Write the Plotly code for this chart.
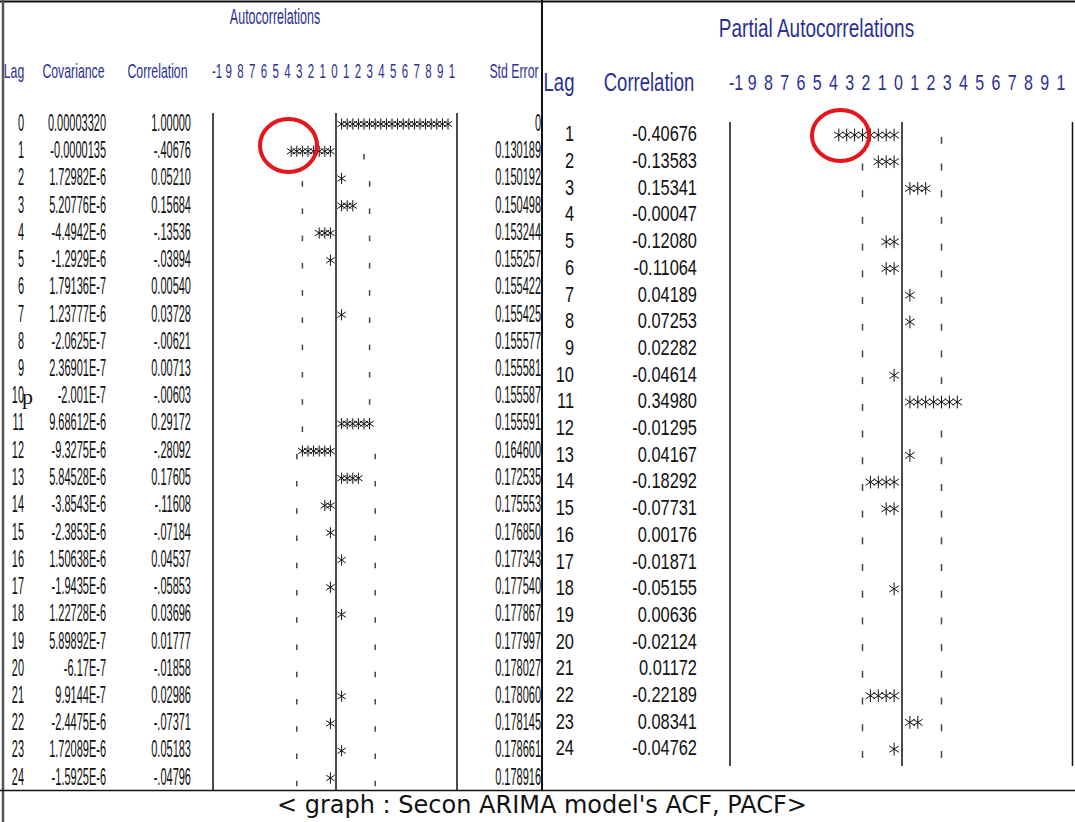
import numpy as np
import plotly.graph_objects as go

# ---------------- data (read from the SAS output) ----------------
acf_lag = list(range(0, 25))
acf_covariance = ["0.00003320", "-0.0000135", "1.72982E-6", "5.20776E-6", "-4.4942E-6",
                  "-1.2929E-6", "1.79136E-7", "1.23777E-6", "-2.0625E-7", "2.36901E-7",
                  "-2.001E-7", "9.68612E-6", "-9.3275E-6", "5.84528E-6", "-3.8543E-6",
                  "-2.3853E-6", "1.50638E-6", "-1.9435E-6", "1.22728E-6", "5.89892E-7",
                  "-6.17E-7", "9.9144E-7", "-2.4475E-6", "1.72089E-6", "-1.5925E-6"]
acf_correlation = [1.00000, -0.40676, 0.05210, 0.15684, -0.13536, -0.03894, 0.00540,
                   0.03728, -0.00621, 0.00713, -0.00603, 0.29172, -0.28092, 0.17605,
                   -0.11608, -0.07184, 0.04537, -0.05853, 0.03696, 0.01777, -0.01858,
                   0.02986, -0.07371, 0.05183, -0.04796]
acf_std_error = [0, 0.130189, 0.150192, 0.150498, 0.153244, 0.155257, 0.155422, 0.155425,
                 0.155577, 0.155581, 0.155587, 0.155591, 0.164600, 0.172535, 0.175553,
                 0.176850, 0.177343, 0.177540, 0.177867, 0.177997, 0.178027, 0.178060,
                 0.178145, 0.178661, 0.178916]
pacf_lag = list(range(1, 25))
pacf_correlation = [-0.40676, -0.13583, 0.15341, -0.00047, -0.12080, -0.11064, 0.04189,
                    0.07253, 0.02282, -0.04614, 0.34980, -0.01295, 0.04167, -0.18292,
                    -0.07731, 0.00176, -0.01871, -0.05155, 0.00636, -0.02124, 0.01172,
                    -0.22189, 0.08341, -0.04762]
n_obs = 59
scale_labels = ["-1", "9", "8", "7", "6", "5", "4", "3", "2", "1", "0",
                "1", "2", "3", "4", "5", "6", "7", "8", "9", "1"]
acf_headers = ["Lag", "Covariance", "Correlation", "Std Error"]
pacf_headers = ["Lag", "Correlation"]
acf_title = "Autocorrelations"
pacf_title = "Partial Autocorrelations"
caption = "< graph : Secon ARIMA model's ACF, PACF>"

# ---------------- layout constants (pixels) ----------------
W, H = 1075, 822
ACF_C, ACF_CHAR, ACF_ROW0, ACF_DY = 336.0, 5.6, 124.0, 27.25
PACF_C, PACF_CHAR, PACF_ROW0, PACF_DY = 902.0, 7.9, 135.0, 26.7
FONT = "Liberation Sans, Arial, sans-serif"
BLUE = "#2b2f96"
INK = "#111111"


def x_range(px_of_v0, v0, ppu):
    return [v0 - px_of_v0 / ppu, v0 + (W - px_of_v0) / ppu]


def y_range(px_of_v0, v0, ppu):
    return [v0 + (H - px_of_v0) / ppu, v0 - px_of_v0 / ppu]


def n_stars(r):
    return int(np.floor(abs(r) * 20 + 0.5))


def star_points(lags, corrs):
    xs, ys = [], []
    for lag, r in zip(lags, corrs):
        s = 1 if r >= 0 else -1
        for k in range(1, n_stars(r) + 1):
            xs.append(s * k / 20)
            ys.append(lag)
    return xs, ys


def dot_points(lags, corrs, ses):
    xs, ys = [], []
    for lag, r, se in zip(lags, corrs, ses):
        if se <= 0:
            continue
        k = int(np.floor(2 * se * 20 + 0.5))
        s = 1 if r >= 0 else -1
        for side in (-1, 1):
            if side == s and n_stars(r) >= k:
                continue
            xs.append(side * k / 20)
            ys.append(lag + 0.2)
    return xs, ys


def fmt_acf_corr(v):
    return f"{v:.5f}".replace("-0.", "-.")


def fmt_se(v):
    return "0" if v == 0 else f"{v:.6f}"


fig = go.Figure()
_uid_count = {}


def text_trace(x, y, text, xa, ya, pos, size, color, group):
    _uid_count[group] = _uid_count.get(group, 0) + 1
    fig.add_trace(go.Scatter(x=x, y=y, text=text, mode="text", textposition=pos,
                             textfont=dict(family=FONT, size=size, color=color),
                             xaxis=xa, yaxis=ya, hoverinfo="skip", showlegend=False,
                             cliponaxis=False, uid=f"{group}{_uid_count[group]}"))


def star_traces(x, y, xa, ya, size):
    for sym in ("y-up-open", "y-down-open"):
        fig.add_trace(go.Scatter(x=x, y=y, mode="markers", xaxis=xa, yaxis=ya,
                                 marker=dict(symbol=sym, size=size, color=INK,
                                             line=dict(width=1, color=INK)),
                                 hoverinfo="skip", showlegend=False, cliponaxis=False))


def dot_trace(x, y, xa, ya, size):
    fig.add_trace(go.Scatter(x=x, y=y, mode="markers", xaxis=xa, yaxis=ya,
                             marker=dict(symbol="line-ns-open", size=size, color="#444",
                                         line=dict(width=1.5, color="#444")),
                             hoverinfo="skip", showlegend=False, cliponaxis=False))


# ---------------- ACF panel ----------------
sx, sy = star_points(acf_lag, acf_correlation)
star_traces(sx, sy, "x", "y", 7)
dx, dy = dot_points(acf_lag, acf_correlation, acf_std_error)
dot_trace(dx, dy, "x", "y", 4)

n_acf = len(acf_lag)
ACF_FS = 11
text_trace([24] * n_acf, acf_lag, [str(v) for v in acf_lag], "x3", "y", "middle left", ACF_FS, INK, "acfdata")
text_trace([106] * n_acf, acf_lag, acf_covariance, "x3", "y", "middle left", ACF_FS, INK, "acfdata")
text_trace([191] * n_acf, acf_lag, [fmt_acf_corr(v) for v in acf_correlation], "x3", "y",
           "middle left", ACF_FS, INK, "acfdata")
text_trace([541] * n_acf, acf_lag, [fmt_se(v) for v in acf_std_error], "x3", "y",
           "middle left", ACF_FS, INK, "acfdata")

text_trace([275], [18], [acf_title], "x3", "y3", "middle center", 12.5, BLUE, "acfhead")
text_trace([14, 73.5, 157.5, 514], [72] * 4, acf_headers, "x3", "y3", "middle center", 12.3, BLUE, "acfhead")
text_trace(list(np.linspace(217, 452, len(scale_labels))), [72] * len(scale_labels), scale_labels,
           "x3", "y3", "middle center", 11.5, BLUE, "acfhead")

# ---------------- PACF panel ----------------
px_, py_ = star_points(pacf_lag, pacf_correlation)
star_traces(px_, py_, "x2", "y2", 8)
pacf_se = [1 / np.sqrt(n_obs)] * len(pacf_lag)
qx, qy = dot_points(pacf_lag, pacf_correlation, pacf_se)
dot_trace(qx, qy, "x2", "y2", 5)

n_pacf = len(pacf_lag)
PACF_FS = 16.4
text_trace([574] * n_pacf, pacf_lag, [str(v) for v in pacf_lag], "x3", "y2", "middle left", PACF_FS, INK, "pacfdata")
text_trace([697] * n_pacf, pacf_lag, [f"{v:.5f}" for v in pacf_correlation], "x3", "y2",
           "middle left", PACF_FS, INK, "pacfdata")

text_trace([816.5], [30], [pacf_title], "x3", "y3", "middle center", 19, BLUE, "pacfhead")
text_trace([559, 649], [84, 84], pacf_headers, "x3", "y3", "middle center", 18.5, BLUE, "pacfhead")
text_trace(list(np.linspace(736, 1061, len(scale_labels))), [84] * len(scale_labels), scale_labels,
           "x3", "y3", "middle center", 16, BLUE, "pacfhead")

# ---------------- frame and bar-area lines ----------------
shapes = []


def seg(x0, y0, x1, y1, w=1.5, color="#111", xref="x3", yref="y3"):
    shapes.append(dict(type="line", x0=x0, y0=y0, x1=x1, y1=y1, xref=xref, yref=yref,
                       line=dict(width=w, color=color), layer="above"))


seg(0, 1.5, W, 1.5, 2)                 # top frame
seg(3, 0, 3, H, 2.5, "#555")           # left frame
seg(542, 0, 542, 791, 2)               # panel separator
seg(0, 790.5, W, 790.5, 1.5)           # bottom rule above caption
# ACF bar area
seg(213, 113, 213, 790)
seg(0, 113, 0, 790, 1.5, xref="x")
seg(457, 113, 457, 790)
# PACF bar area
seg(730, 122, 730, 766)
seg(0, 122, 0, 766, 1.5, xref="x2")
seg(1072.5, 122, 1072.5, 766)

# red highlight circles
shapes.append(dict(type="circle", xref="x3", yref="y3", x0=260, y0=119, x1=317, y1=172,
                   line=dict(color="#e8141b", width=4), layer="above"))
shapes.append(dict(type="circle", xref="x3", yref="y3", x0=812, y0=110, x1=869, y1=161,
                   line=dict(color="#e8141b", width=4), layer="above"))

annotations = [
    dict(text=caption, x=542, y=805, xref="x3", yref="y3", showarrow=False,
         font=dict(family="DejaVu Sans", size=24, color="#111")),
    dict(text="p", x=20, y=396, xref="x3", yref="y3", xanchor="left", showarrow=False,
         font=dict(family="Liberation Serif", size=22, color="#111")),
]

ax_common = dict(visible=False, fixedrange=True, domain=[0, 1])
fig.update_layout(
    width=W, height=H, margin=dict(l=0, r=0, t=0, b=0),
    paper_bgcolor="white", plot_bgcolor="rgba(0,0,0,0)", showlegend=False,
    xaxis=dict(range=x_range(ACF_C, 0, 20 * ACF_CHAR), anchor="y", **ax_common),
    yaxis=dict(range=y_range(ACF_ROW0, 0, ACF_DY), anchor="x", **ax_common),
    xaxis2=dict(range=x_range(PACF_C, 0, 20 * PACF_CHAR), anchor="y2", **ax_common),
    yaxis2=dict(range=y_range(PACF_ROW0, 1, PACF_DY), anchor="x2", **ax_common),
    xaxis3=dict(range=[0, W], anchor="y3", **ax_common),
    yaxis3=dict(range=[H, 0], anchor="x3", **ax_common),
    shapes=shapes, annotations=annotations,
)

# tall condensed look of the SAS listing font
stretch = {"acfdata": 2.1, "acfhead": 1.7, "pacfdata": 1.4, "pacfhead": 1.35}
css = "".join(
    'g[class*="trace%s"] .textpoint text{transform-box:fill-box;transform-origin:center;transform:scaleY(%s);}' % (k, v)
    for k, v in stretch.items())
post = "var s=document.createElement('style');s.textContent='" + css + "';document.head.appendChild(s);"

fig.write_html("out.html", post_script=post)
